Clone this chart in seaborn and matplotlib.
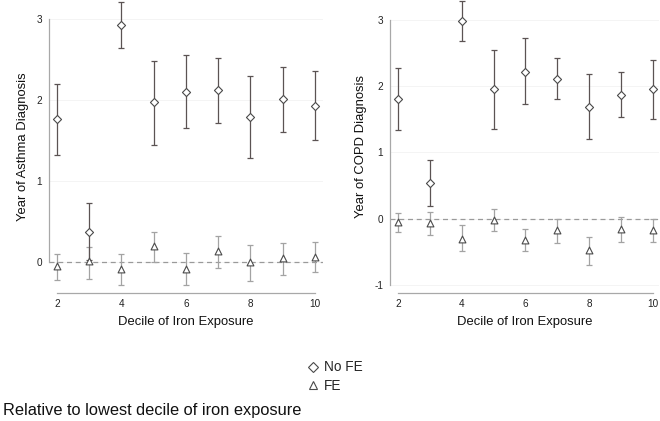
import numpy as np
import pandas as pd
import matplotlib
matplotlib.use("Agg")
import matplotlib.pyplot as plt
from matplotlib.lines import Line2D
import seaborn as sns

# decile of iron exposure (relative to lowest decile)
deciles = [2, 3, 4, 5, 6, 7, 8, 9, 10]

# Asthma, no fixed effects
asthma_nofe = [1.76, 0.38, 2.92, 1.97, 2.10, 2.12, 1.79, 2.01, 1.92]
asthma_nofe_lo = [1.32, 0.03, 2.64, 1.45, 1.66, 1.72, 1.29, 1.61, 1.51]
asthma_nofe_hi = [2.20, 0.73, 3.21, 2.48, 2.55, 2.51, 2.29, 2.40, 2.35]
# Asthma, fixed effects
asthma_fe = [-0.05, 0.02, -0.08, 0.20, -0.08, 0.14, 0.00, 0.05, 0.07]
asthma_fe_lo = [-0.22, -0.20, -0.28, 0.00, -0.28, -0.07, -0.23, -0.16, -0.12]
asthma_fe_hi = [0.10, 0.19, 0.10, 0.38, 0.11, 0.33, 0.22, 0.24, 0.25]

# COPD, no fixed effects
copd_nofe = [1.81, 0.54, 2.98, 1.95, 2.22, 2.11, 1.69, 1.87, 1.95]
copd_nofe_lo = [1.34, 0.20, 2.68, 1.36, 1.73, 1.81, 1.20, 1.54, 1.50]
copd_nofe_hi = [2.27, 0.88, 3.29, 2.54, 2.72, 2.42, 2.18, 2.21, 2.39]
# COPD, fixed effects
copd_fe = [-0.05, -0.07, -0.30, -0.02, -0.32, -0.17, -0.47, -0.16, -0.17]
copd_fe_lo = [-0.20, -0.25, -0.49, -0.19, -0.49, -0.36, -0.69, -0.35, -0.35]
copd_fe_hi = [0.08, 0.10, -0.10, 0.15, -0.16, 0.00, -0.27, 0.03, 0.00]

ylabels = ["Year of Asthma Diagnosis", "Year of COPD Diagnosis"]
xlabel = "Decile of Iron Exposure"
legend_labels = ["No FE", "FE"]
caption = "Relative to lowest decile of iron exposure"


def make_df(nofe, nofe_lo, nofe_hi, fe, fe_lo, fe_hi):
    rows = []
    for model, est, lo, hi in [("No FE", nofe, nofe_lo, nofe_hi), ("FE", fe, fe_lo, fe_hi)]:
        for d, e, l, h in zip(deciles, est, lo, hi):
            rows.append({"decile": d, "model": model, "est": e, "lo": l, "hi": h})
    return pd.DataFrame(rows)


panels = [
    make_df(asthma_nofe, asthma_nofe_lo, asthma_nofe_hi, asthma_fe, asthma_fe_lo, asthma_fe_hi),
    make_df(copd_nofe, copd_nofe_lo, copd_nofe_hi, copd_fe, copd_fe_lo, copd_fe_hi),
]

sns.set_theme(style="white")
plt.rcParams["font.family"] = ["Liberation Sans", "DejaVu Sans"]

fig = plt.figure(figsize=(6.6, 4.21), dpi=100)
axes = [fig.add_axes([0.0742, 0.304, 0.415, 0.696]),
        fig.add_axes([0.591, 0.304, 0.407, 0.696])]

bar_colors = {"No FE": "#5b5353", "FE": "#a3a3a3"}
markers = {"No FE": "D", "FE": "^"}
sizes = {"No FE": 17, "FE": 24}
ylims = [(-0.377, 3.23), (-1.12, 3.30)]
yticks = [[0, 1, 2, 3], [-1, 0, 1, 2, 3]]
xlims = [(1.75, 10.25), (1.75, 10.18)]

for ax, df, ylab, ylim, yt, xl in zip(axes, panels, ylabels, ylims, yticks, xlims):
    for tk in yt:
        ax.axhline(tk, color="#f2f2f2", lw=0.6, zorder=0)
    ax.axhline(0, color="#9a9a9a", lw=0.9, ls=(0, (4, 3)), zorder=1)
    for model in ["FE", "No FE"]:
        sub = df[df["model"] == model]
        ax.errorbar(sub["decile"], sub["est"],
                    yerr=[sub["est"] - sub["lo"], sub["hi"] - sub["est"]],
                    fmt="none", ecolor=bar_colors[model], elinewidth=0.9,
                    capsize=2.3, capthick=0.9, zorder=2)
        sns.scatterplot(data=sub, x="decile", y="est", marker=markers[model],
                        s=sizes[model], facecolor="white", edgecolor="#4a4a4a",
                        linewidth=0.8, ax=ax, zorder=3, legend=False)
    ax.set_xlim(*xl)
    ax.set_ylim(*ylim)
    ax.set_xticks([2, 4, 6, 8, 10])
    ax.set_yticks(yt)
    ax.set_yticklabels([str(t) for t in yt])
    sns.despine(ax=ax)
    for side in ["left", "bottom"]:
        ax.spines[side].set_color("#a8a8a8")
        ax.spines[side].set_linewidth(0.9)
    ax.spines["left"].set_bounds(yt[0], yt[-1])
    ax.spines["bottom"].set_bounds(2, 10)
    ax.tick_params(axis="both", which="major", length=3, width=0.8, color="#a8a8a8",
                   labelsize=7.2, labelcolor="#222222", pad=2)
    ax.tick_params(axis="x", length=0, pad=4)
    ax.set_ylabel(ylab, fontsize=9.4, color="#111111", labelpad=5)
    ax.set_xlabel(xlabel, fontsize=9.4, color="#111111", labelpad=5)

handles = [Line2D([], [], ls="none", marker="D", ms=5, mfc="white", mec="#4a4a4a", mew=0.8),
           Line2D([], [], ls="none", marker="^", ms=5.5, mfc="white", mec="#4a4a4a", mew=0.8)]
fig.legend(handles, legend_labels, loc="center", bbox_to_anchor=(0.507, 0.105),
           frameon=False, fontsize=9.8, handletextpad=0.3, labelspacing=0.35,
           handlelength=1.0)

fig.text(0.004, 0.026, caption, fontsize=11.8, color="#111111", ha="left", va="center")

fig.savefig("out.png", dpi=100)
